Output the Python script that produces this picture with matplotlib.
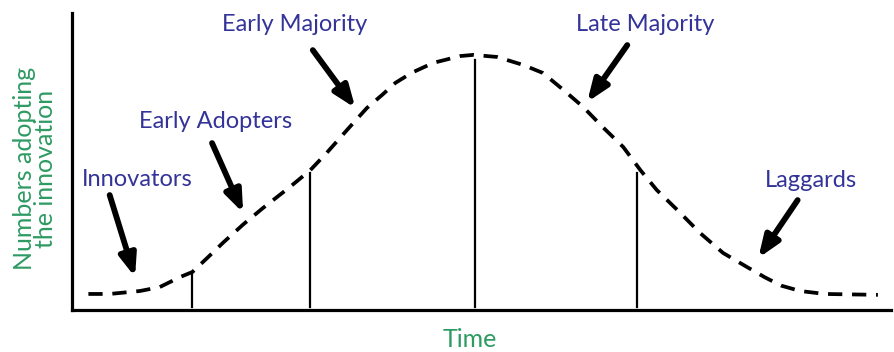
import matplotlib.pyplot as plt

# curve (time, numbers adopting), 0..100 scale
time = [2.0, 4.6, 8.3, 10.7, 13.2, 14.7, 16.5, 18.5, 20.9, 23.3, 26.6, 29.1,
        31.1, 33.9, 36.0, 37.9, 39.5, 41.5, 44.1, 47.4, 49.0, 51.9, 55.1,
        57.5, 60.0, 62.4, 64.8, 67.3, 69.4, 71.4, 73.9, 76.7, 79.5, 82.4,
        84.6, 86.6, 88.9, 91.9, 98.4]
adopt = [5.4, 5.4, 6.4, 7.7, 11.1, 12.8, 17.5, 22.8, 28.8, 34.3, 41.4, 47.1,
         52.9, 61.6, 68.0, 72.5, 76.5, 79.9, 83.2, 85.5, 85.9, 85.2, 82.5,
         79.8, 74.1, 68.4, 61.6, 54.9, 47.1, 40.4, 33.7, 25.9, 19.2, 14.5,
         11.0, 8.2, 6.4, 5.4, 5.1]

# boundaries between adopter groups
split_x = [14.7, 29.1, 49.2, 69.0]
split_top = [12.8, 46.1, 84.2, 46.1]

groups = ["Innovators", "Early Adopters", "Early Majority", "Late Majority", "Laggards"]
label_xy = [(8.0, 44.0), (17.5, 63.5), (27.2, 96.0), (70.0, 96.0), (90.2, 43.5)]
arrow_from = [(4.6, 38.7), (17.1, 56.2), (29.4, 87.5), (67.8, 89.2), (88.6, 37.0)]
arrow_to = [(7.7, 11.1), (20.9, 32.7), (34.6, 68.0), (62.9, 70.0), (83.8, 17.5)]

blue = "#333399"
green = "#2e9b63"

fig = plt.figure(figsize=(8.95, 3.52), dpi=100)
ax = fig.add_axes([72 / 895, 42 / 352, 819 / 895, 297 / 352])
ax.set_xlim(0, 100)
ax.set_ylim(0, 100)

ax.plot(time, adopt, color="black", lw=2.7, linestyle=(0, (3.8, 2.6)))
for x, top in zip(split_x, split_top):
    ax.plot([x, x], [1.0, top], color="black", lw=1.6)

for name, (lx, ly), p0, p1 in zip(groups, label_xy, arrow_from, arrow_to):
    ax.text(lx, ly, name, color=blue, fontsize=17, family="Lato",
            ha="center", va="center")
    ax.annotate("", xy=p1, xytext=p0,
                arrowprops=dict(arrowstyle="-|>,head_length=1.3,head_width=0.5",
                                color="black", lw=4.2, shrinkA=0, shrinkB=0))

for side in ["top", "right"]:
    ax.spines[side].set_visible(False)
ax.spines["left"].set_linewidth(2.3)
ax.spines["bottom"].set_linewidth(2.3)
ax.set_xticks([])
ax.set_yticks([])

ax.text(0.486, -0.098, "Time", color=green, fontsize=18, family="Lato",
        ha="center", va="center", transform=ax.transAxes)
ax.text(-0.045, 0.475, "Numbers adopting\nthe innovation", color=green,
        fontsize=18, family="Lato", ha="center", va="center", rotation=90,
        linespacing=0.9, transform=ax.transAxes)

fig.savefig("out.png", dpi=100)
